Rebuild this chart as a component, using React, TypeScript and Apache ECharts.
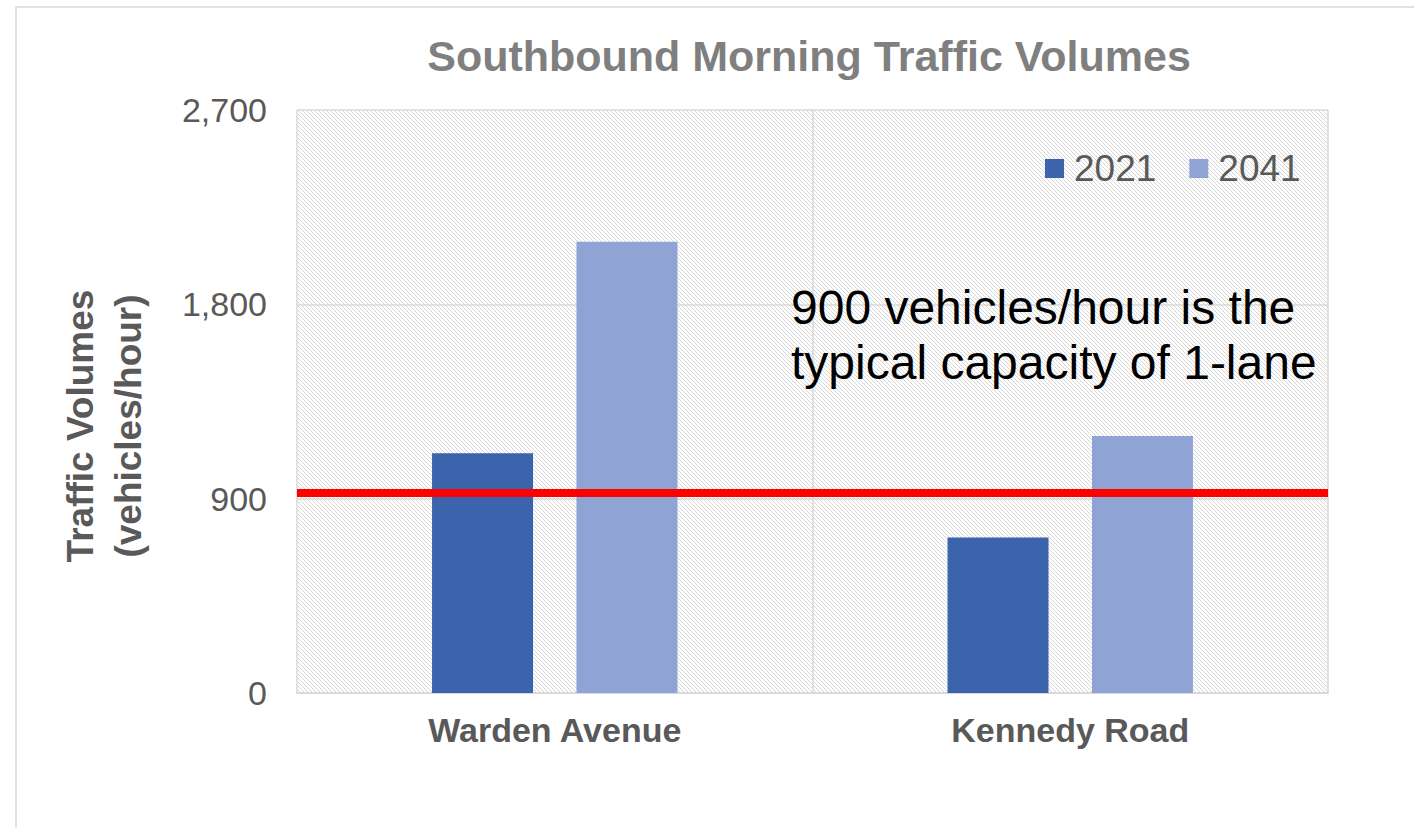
import React, { useEffect, useRef } from "react";
import * as echarts from "echarts";

const categories = ["Warden Avenue", "Kennedy Road"];
const seriesNames = ["2021", "2041"];
const volumes2021 = [1110, 720];
const volumes2041 = [2090, 1190];
const capacityLineValue = 928;
const yTicks = [0, 900, 1800, 2700];

const FONT = "'Liberation Sans', Arial, sans-serif";

function makeHatch(): HTMLCanvasElement {
  const c = document.createElement("canvas");
  c.width = 4;
  c.height = 4;
  const ctx = c.getContext("2d")!;
  ctx.fillStyle = "#ffffff";
  ctx.fillRect(0, 0, 4, 4);
  ctx.fillStyle = "#d6d6d6";
  for (let i = 0; i < 4; i++) ctx.fillRect(i, i, 1, 1);
  return c;
}

export default function App() {
  const ref = useRef<HTMLDivElement>(null);
  useEffect(() => {
    if (!ref.current) return;
    const chart = echarts.init(ref.current, undefined, { renderer: "svg" });
    const hatch = makeHatch();
    chart.setOption({
      animation: false,
      backgroundColor: "#ffffff",
      textStyle: { fontFamily: FONT },
      title: {
        text: "Southbound Morning Traffic Volumes",
        left: 809,
        top: 34,
        padding: 0,
        textAlign: "center",
        textStyle: { fontFamily: FONT, fontSize: 43, fontWeight: "bold", color: "#7f7f7f", lineHeight: 43 },
      },
      legend: {
        data: seriesNames,
        left: 1045,
        top: 150,
        padding: 0,
        itemWidth: 19,
        itemHeight: 19,
        itemGap: 33,
        icon: "rect",
        textStyle: { fontFamily: FONT, fontSize: 37, color: "#595959", padding: [0, 0, 0, 5] },
      },
      grid: {
        left: 297,
        top: 110,
        right: 86,
        bottom: 135,
        show: true,
        borderWidth: 0,
        backgroundColor: { image: hatch, imageWidth: 4, imageHeight: 4, repeat: "repeat" },
      },
      xAxis: {
        type: "category",
        data: categories,
        axisTick: { show: false },
        axisLine: { lineStyle: { color: "#d9d9d9", width: 2 } },
        axisLabel: { fontFamily: FONT, fontSize: 34, fontWeight: "bold", color: "#595959", margin: 20 },
        splitLine: { show: true, lineStyle: { color: "#d9d9d9", width: 1.5 } },
      },
      yAxis: {
        type: "value",
        min: yTicks[0],
        max: yTicks[yTicks.length - 1],
        interval: yTicks[1] - yTicks[0],
        axisLine: { show: false },
        axisTick: { show: false },
        axisLabel: {
          fontFamily: FONT,
          fontSize: 34,
          color: "#595959",
          margin: 30,
          formatter: (v: number) => v.toLocaleString("en-US"),
        },
        splitLine: { lineStyle: { color: "#d9d9d9", width: 1.5 } },
      },
      series: [
        {
          name: seriesNames[0],
          type: "bar",
          data: volumes2021,
          barWidth: 101,
          barGap: "43%",
          itemStyle: { color: "#3b64ad" },
          markLine: {
            silent: true,
            symbol: "none",
            label: { show: false },
            lineStyle: { color: "#ff0000", width: 8, type: "solid" },
            data: [{ yAxis: capacityLineValue }],
            z: 10,
          },
        },
        {
          name: seriesNames[1],
          type: "bar",
          data: volumes2041,
          barWidth: 101,
          barGap: "43%",
          itemStyle: { color: "#8fa4d4" },
        },
      ],
      graphic: [
        {
          type: "rect",
          shape: { x: 16, y: 7, width: 1600, height: 1000 },
          style: { fill: "none", stroke: "#d9d9d9", lineWidth: 1.5 },
          silent: true,
        },
        {
          type: "text",
          x: 104,
          y: 426,
          rotation: Math.PI / 2,
          style: {
            text: "Traffic Volumes\n(vehicles/hour)",
            font: `bold 37px ${FONT}`,
            fill: "#595959",
            align: "center",
            verticalAlign: "middle",
            lineHeight: 48,
          },
        },
        {
          type: "text",
          x: 791,
          y: 335,
          z: 20,
          style: {
            text: "900 vehicles/hour is the\ntypical capacity of 1-lane",
            font: `48px ${FONT}`,
            fill: "#000000",
            align: "left",
            verticalAlign: "middle",
            lineHeight: 55,
          },
        },
      ],
    });
    return () => chart.dispose();
  }, []);
  return (
    <div
      ref={ref}
      style={{ position: "absolute", left: 0, top: 0, width: 1414, height: 828 }}
    />
  );
}
